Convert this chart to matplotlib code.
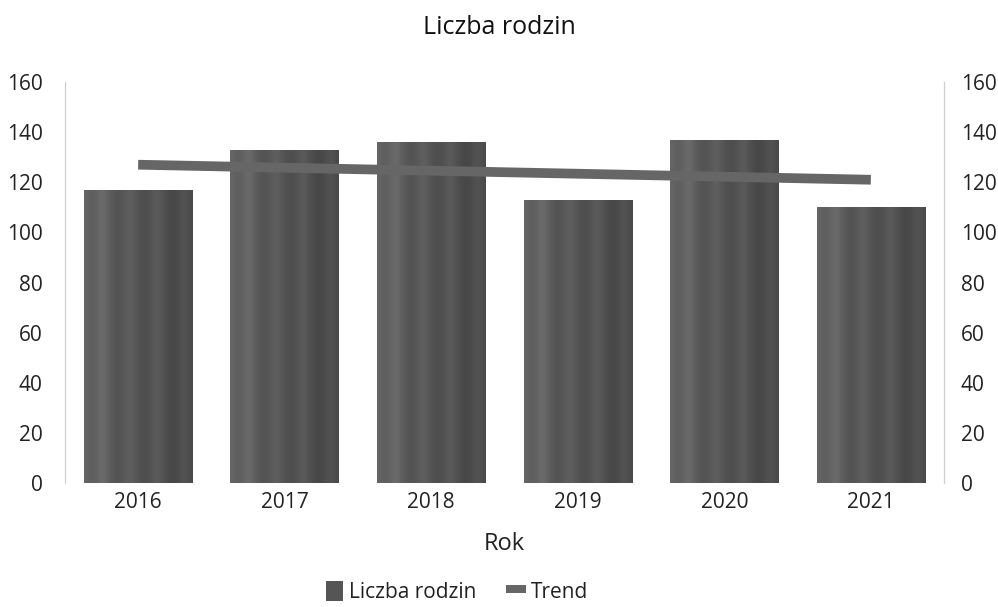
import numpy as np
import matplotlib
matplotlib.use("Agg")
import matplotlib.pyplot as plt
from matplotlib.patches import Patch
from matplotlib.lines import Line2D

## Data ##
years = ["2016", "2017", "2018", "2019", "2020", "2021"]
families = [117, 133, 136, 113, 137, 110]
trend_years = ["2016", "2021"]
trend_values = [127, 121]

plt.rcParams['font.family'] = ['Open Sans', 'DejaVu Sans']

fig = plt.figure(figsize=(9.98, 6.07), dpi=100)
ax = fig.add_axes([0.065, 0.204, 0.881, 0.661])

x = np.arange(len(years))
width = 0.74

# cylinder-like shading across each bar
shade = np.array([0.40, 0.36, 0.39, 0.43, 0.37, 0.34, 0.32, 0.35, 0.38, 0.34,
                  0.31, 0.30, 0.33, 0.36, 0.32, 0.29, 0.27, 0.30, 0.33, 0.29])
grad = np.tile(shade, (2, 1))
bars = ax.bar(x, families, width=width, color="#555555", zorder=2)
for b in bars:
    x0, y0 = b.get_x(), b.get_y()
    im = ax.imshow(grad, cmap="gray", vmin=0, vmax=1, aspect="auto",
                   extent=[x0, x0 + b.get_width(), y0, y0 + b.get_height()],
                   interpolation="bicubic", zorder=2)
    im.set_clip_path(b)

tx = [years.index(t) for t in trend_years]
ax.plot(tx, trend_values, color="#666666", lw=7, solid_capstyle="butt", zorder=3)

ax.set_xlim(-0.5, len(years) - 0.5)
ax.set_ylim(0, 160)
ax.set_yticks(range(0, 161, 20))
ax.set_xticks(x)
ax.set_xticklabels(years)
ax.tick_params(axis="both", length=0, labelsize=15, colors="#222222")
ax.tick_params(axis="x", pad=6)
ax.tick_params(axis="y", pad=16)

ax2 = ax.twinx()
ax2.set_ylim(0, 160)
ax2.set_yticks(range(0, 161, 20))
ax2.tick_params(axis="y", length=0, labelsize=15, colors="#222222", pad=12)

for a in (ax, ax2):
    a.spines["top"].set_visible(False)
    a.spines["bottom"].set_visible(False)
    a.spines["left"].set_color("#cfcfcf")
    a.spines["right"].set_color("#cfcfcf")

ax.set_xlabel("Rok", fontsize=17, color="#222222", labelpad=14)
fig.suptitle("Liczba rodzin", fontsize=18, color="#111111", y=0.975)

rect = [(-1.2, -0.45), (1.2, -0.45), (1.2, 0.45), (-1.2, 0.45)]
handles = [Patch(facecolor="#555555", edgecolor="none"),
           Line2D([], [], ls="none", marker=rect, markersize=14,
                  color="#666666", markeredgewidth=0)]
fig.legend(handles, ["Liczba rodzin", "Trend"], loc="center",
           bbox_to_anchor=(0.458, 0.025), ncol=2, frameon=False, fontsize=15,
           handlelength=0.8, handleheight=1.1, handletextpad=0.3, columnspacing=1.5,
           labelcolor="#222222")

fig.savefig("out.png", dpi=100)
